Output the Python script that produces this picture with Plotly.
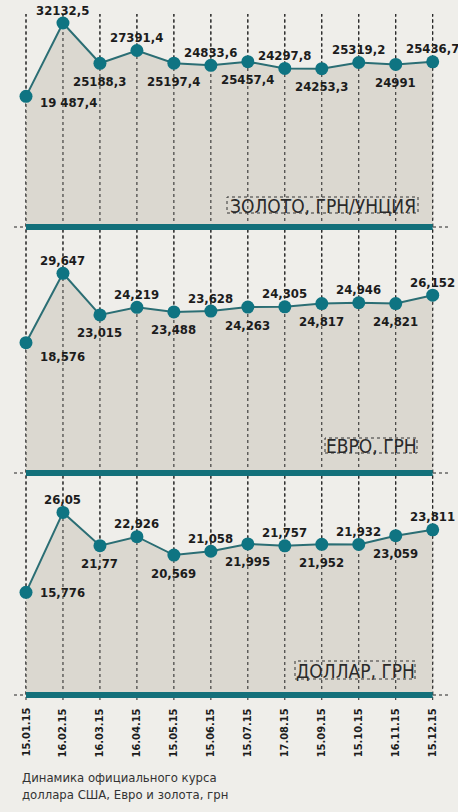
import plotly.graph_objects as go

W, H = 458, 812

dates = ["15.01.15", "16.02.15", "16.03.15", "16.04.15", "15.05.15", "15.06.15",
         "15.07.15", "17.08.15", "15.09.15", "15.10.15", "16.11.15", "15.12.15"]

gold = [19487.4, 32132.5, 25188.3, 27391.4, 25197.4, 24833.6, 25457.4, 24297.8,
        24253.3, 25319.2, 24991, 25436.7]
gold_labels = ["19 487,4", "32132,5", "25188,3", "27391,4", "25197,4", "24833,6",
               "25457,4", "24297,8", "24253,3", "25319,2", "24991", "25436,7"]

euro = [18.576, 29.647, 23.015, 24.219, 23.488, 23.628, 24.263, 24.305, 24.817,
        24.946, 24.821, 26.152]
euro_labels = ["18,576", "29,647", "23,015", "24,219", "23,488", "23,628", "24,263",
               "24,305", "24,817", "24,946", "24,821", "26,152"]

usd = [15.776, 26.05, 21.77, 22.926, 20.569, 21.058, 21.995, 21.757, 21.952,
       21.932, 23.059, 23.811]
usd_labels = ["15,776", "26,05", "21,77", "22,926", "20,569", "21,058", "21,995",
              "21,757", "21,952", "21,932", "23,059", "23,811"]

titles = ["ЗОЛОТО, ГРН/УНЦИЯ", "ЕВРО, ГРН", "ДОЛЛАР, ГРН"]
caption = "Динамика официального курса<br>доллара США, Евро и золота, грн"

BG = "#efeeea"
FILL = "#dbd8d0"
TEAL = "#13707a"
LINE = "#2b6e74"
DARK = "#1c1c1c"
NARROW = "Liberation Sans Narrow, DejaVu Sans Condensed, Arial Narrow, sans-serif"


def py(px):
    return 1 - px / H


# panel geometry (pixels): top, bottom(baseline), value range
panels = [
    dict(vals=gold, labels=gold_labels, top=0, bot=227, rng=[-3040, 36098],
         first_dy=-6, grid_top=14, box=(227, 418, 197, 213)),
    dict(vals=euro, labels=euro_labels, top=230, bot=473, rng=[-2.20, 36.55],
         first_dy=-14, grid_top=230, box=(325, 417, 438, 453)),
    dict(vals=usd, labels=usd_labels, top=476, bot=695, rng=[2.58, 30.73],
         first_dy=0, grid_top=476, box=(295, 415, 661, 679)),
]

n = len(dates)
spacing = (432.7 - 26) / (n - 1)
xmin = -26 / spacing
xmax = xmin + W / spacing

fig = go.Figure()
annotations = []
shapes = []
layout_axes = {}
LBL = dict(family=NARROW, size=13, color=DARK, weight="bold")

for k, p in enumerate(panels, start=1):
    xa = "x" if k == 1 else f"x{k}"
    ya = "y" if k == 1 else f"y{k}"
    lo, hi = p["rng"]
    xs = list(range(n))

    def px2v(px, p=p, lo=lo, hi=hi):
        return lo + (p["bot"] - px) / (p["bot"] - p["top"]) * (hi - lo)

    # baseline for fill
    fig.add_trace(go.Scatter(x=xs, y=[lo] * n, mode="lines", line=dict(width=0),
                             xaxis=xa, yaxis=ya, hoverinfo="skip", showlegend=False))
    fig.add_trace(go.Scatter(x=xs, y=p["vals"], mode="lines", line=dict(width=0),
                             fill="tonexty", fillcolor=FILL, xaxis=xa, yaxis=ya,
                             hoverinfo="skip", showlegend=False))
    # vertical dotted gridlines
    gx, gy = [], []
    gtop = px2v(p["grid_top"])
    for i in xs:
        gx += [i, i, None]
        gy += [lo, gtop, None]
    fig.add_trace(go.Scatter(x=gx, y=gy, mode="lines",
                             line=dict(color="#222222", width=1, dash="dot"),
                             xaxis=xa, yaxis=ya, hoverinfo="skip", showlegend=False))
    # series line + markers
    fig.add_trace(go.Scatter(x=xs, y=p["vals"], mode="lines+markers",
                             line=dict(color=LINE, width=2),
                             marker=dict(color="#0f7482", size=13),
                             xaxis=xa, yaxis=ya, hoverinfo="skip", showlegend=False))

    for i, (v, t) in enumerate(zip(p["vals"], p["labels"])):
        if i == 0:
            annotations.append(dict(x=i, y=v, xref=xa, yref=ya, text=t, showarrow=False,
                                    xanchor="left", yanchor="middle", xshift=12,
                                    yshift=p["first_dy"], font=LBL))
        else:
            above = (i % 2 == 1)
            annotations.append(dict(x=i, y=v, xref=xa, yref=ya, text=t, showarrow=False,
                                    xanchor="center", yanchor="middle",
                                    yshift=13 if above else -18, font=LBL))

    layout_axes[("xaxis" if k == 1 else f"xaxis{k}")] = dict(
        domain=[0, 1], range=[xmin, xmax], visible=False, fixedrange=True,
        anchor=ya)
    layout_axes[("yaxis" if k == 1 else f"yaxis{k}")] = dict(
        domain=[py(p["bot"]), py(p["top"])], range=[lo, hi], visible=False,
        fixedrange=True, anchor=xa)

    # teal baseline bar
    shapes.append(dict(type="line", xref=xa, yref="paper", x0=0, x1=n - 1,
                       y0=py(p["bot"]), y1=py(p["bot"]),
                       line=dict(color=TEAL, width=6), layer="above"))
    # dotted extensions
    for x0, x1 in [(14, 26), (433, 450)]:
        shapes.append(dict(type="line", xref="paper", yref="paper", x0=x0 / W, x1=x1 / W,
                           y0=py(p["bot"]), y1=py(p["bot"]),
                           line=dict(color="#222222", width=1, dash="dot")))
    # title box
    bx0, bx1, by0, by1 = p["box"]
    shapes.append(dict(type="rect", xref="paper", yref="paper", x0=bx0 / W, x1=bx1 / W,
                       y0=py(by1), y1=py(by0),
                       line=dict(color="#333333", width=1, dash="dot")))
    annotations.append(dict(x=(bx0 + bx1) / 2 / W, y=py((by0 + by1) / 2 + 0.5),
                            xref="paper", yref="paper", text=titles[k - 1],
                            showarrow=False, xanchor="center", yanchor="middle",
                            font=dict(family=NARROW, size=19, color="#2a2a2a")))

# gridlines across gaps and bottom
for i in range(n):
    shapes.append(dict(type="line", xref="x3", yref="paper", x0=i, x1=i,
                       y0=py(700), y1=py(14),
                       line=dict(color="#222222", width=1, dash="dot"), layer="below"))

# date labels
for i, d in enumerate(dates):
    annotations.append(dict(x=i, y=py(706), xref="x3", yref="paper", text=d,
                            showarrow=False, textangle=-90, xanchor="center",
                            yanchor="top",
                            font=dict(family=NARROW, size=11, color=DARK, weight="bold")))

annotations.append(dict(x=20 / W, y=py(768), xref="paper", yref="paper", text=caption,
                        showarrow=False, xanchor="left", yanchor="top", align="left",
                        font=dict(family=NARROW, size=13, color="#333333")))

fig.update_layout(width=W, height=H, margin=dict(l=0, r=0, t=0, b=0),
                  paper_bgcolor=BG, plot_bgcolor="rgba(0,0,0,0)",
                  showlegend=False, hovermode=False,
                  annotations=annotations, shapes=shapes, **layout_axes)

fig.write_html("out.html", config={"displayModeBar": False})
